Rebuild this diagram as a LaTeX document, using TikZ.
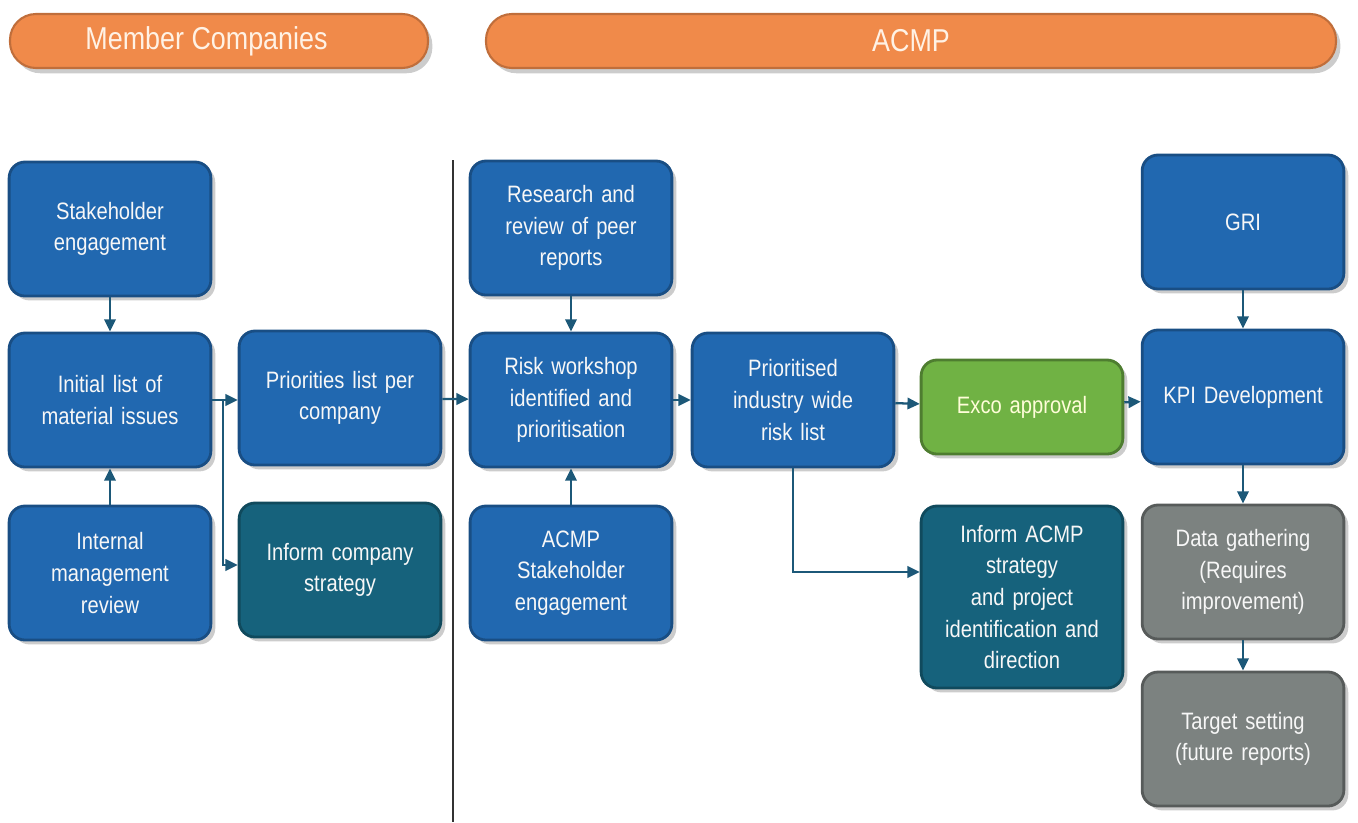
\documentclass[tikz,border=0pt]{standalone}
\usepackage{fontspec}
\setmainfont[FakeStretch=0.85]{Liberation Sans}
\usetikzlibrary{arrows.meta,shadows,positioning}

\definecolor{boxblue}{RGB}{33,104,176}
\definecolor{boxteal}{RGB}{22,98,124}
\definecolor{boxgreen}{RGB}{112,178,68}
\definecolor{boxgrey}{RGB}{124,130,128}
\definecolor{barorange}{RGB}{240,138,74}
\definecolor{linkblue}{RGB}{28,88,120}

\begin{document}
\begin{tikzpicture}[
  box/.style={rectangle, rounded corners=9pt, minimum width=3.96cm, minimum height=2.68cm,
    text width=3.8cm, align=center, text=white!94!gray, font=\fontsize{13.5}{18}\selectfont,
    line width=1.6pt, drop shadow={opacity=0.4, shadow xshift=2.5pt, shadow yshift=-2.5pt}},
  bluebox/.style={box, fill=boxblue, draw=boxblue!75!black},
  tealbox/.style={box, fill=boxteal, draw=boxteal!75!black},
  greenbox/.style={box, fill=boxgreen, draw=boxgreen!70!black, text=white!85!yellow},
  greybox/.style={box, fill=boxgrey, draw=boxgrey!70!black},
  bar/.style={rectangle, rounded corners=0.52cm, minimum height=1.08cm, fill=barorange,
    draw=barorange!80!black, line width=1.2pt, text=white!90!orange, font=\fontsize{18}{20}\selectfont,
    drop shadow={opacity=0.4, shadow xshift=2.5pt, shadow yshift=-3pt}},
  link/.style={-{Triangle[width=6.5pt,length=7pt]}, line width=1.3pt, draw=linkblue},
]
\useasboundingbox (0,0) rectangle (27.16,-16.44);

% headings
\node[bar, minimum width=8.36cm] (members) at (4.38,-0.82) {Member Companies\hspace*{0.5cm}};
\node[bar, minimum width=17cm] (acmp) at (18.22,-0.82) {ACMP};

% divider
\coordinate (divtop) at (9.06,-3.2);
\coordinate (divbot) at (9.06,-16.44);
\draw[line width=1.6pt, color=black!80] (divtop) -- (divbot);

% member companies
\node[bluebox] (stake) at (2.2,-4.58) {Stakeholder\\engagement};
\node[bluebox] (initial) at (2.2,-8.0) {Initial list of\\material issues};
\node[bluebox] (internal) at (2.2,-11.46) {Internal\\management\\review};
\node[bluebox] (priorities) at (6.8,-7.96) {Priorities list per\\company};
\node[tealbox] (informco) at (6.8,-11.4) {Inform company\\strategy};

% industry level
\node[bluebox] (research) at (11.42,-4.56) {Research and\\review of peer\\reports};
\node[bluebox] (risk) at (11.42,-8.0) {Risk workshop\\identified and\\prioritisation};
\node[bluebox] (acmpstake) at (11.42,-11.46) {ACMP\\Stakeholder\\engagement};
\node[bluebox] (prioritised) at (15.86,-8.0) {Prioritised\\industry wide\\risk list};
\node[greenbox, minimum height=1.88cm] (exco) at (20.44,-8.14) {Exco approval};
\node[tealbox, minimum height=3.64cm] (informacmp) at (20.44,-11.94) {Inform ACMP\\strategy\\and project\\identification and\\direction};
\node[bluebox] (gri) at (24.86,-4.44) {GRI};
\node[bluebox] (kpi) at (24.86,-7.94) {KPI Development};
\node[greybox] (data) at (24.86,-11.44) {Data gathering\\(Requires\\improvement)};
\node[greybox] (target) at (24.86,-14.78) {Target setting\\(future reports)};

% connectors
\coordinate (split) at (4.46,-8.0);
\draw[link] (stake) -- (initial);
\draw[link] (internal) -- (initial);
\draw[link] (initial.east) -- (initial.east -| priorities.west);
\draw[link] (split) |- ([yshift=0.1cm]informco.west);
\draw[link] (priorities) -- (risk);
\draw[link] (research) -- (risk);
\draw[link] (acmpstake) -- (risk);
\draw[link] (risk) -- (prioritised);
\draw[link] (prioritised) -- (exco);
\draw[link] (exco) -- (kpi);
\draw[link] (gri) -- (kpi);
\draw[link] (kpi) -- (data);
\draw[link] (data) -- (target);
\draw[link] (prioritised.south) |- ([yshift=0.5cm]informacmp.west);
\end{tikzpicture}
\end{document}
